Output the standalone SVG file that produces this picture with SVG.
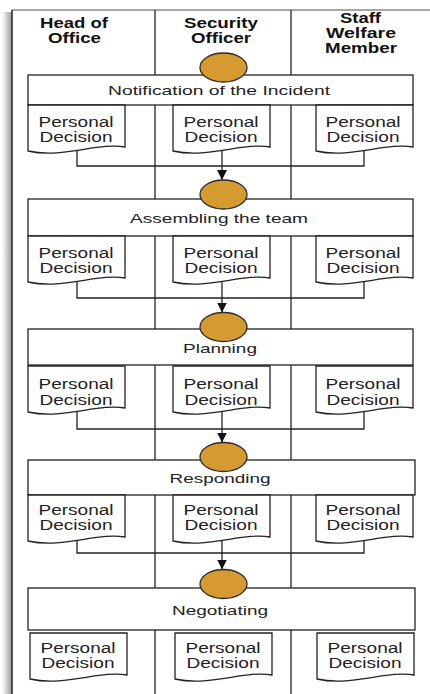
<svg xmlns="http://www.w3.org/2000/svg" width="430" height="694" viewBox="0 0 430 694">
<defs>
<linearGradient id="shadow" x1="0" y1="0" x2="1" y2="0">
<stop offset="0" stop-color="#ffffff"/>
<stop offset="1" stop-color="#9a9a9a"/>
</linearGradient>
<marker id="arr" viewBox="0 0 10 10" refX="10" refY="5" markerWidth="10" markerHeight="10" markerUnits="userSpaceOnUse" orient="auto">
<path d="M0,0 L10,5 L0,10 z" fill="#111"/>
</marker>
<path id="doc" d="M0,0 H97 V42 C70,37 35,54 0,46 Z"/>
</defs>
<style>
.lane{stroke:#222;stroke-width:1.3;fill:none}
.box{fill:#fff;stroke:#222;stroke-width:1.3}
.doc{fill:#fff;stroke:#222;stroke-width:1.3}
.oval{fill:#D59A30;stroke:#2a2a2a;stroke-width:1.3}
.con{stroke:#222;stroke-width:1.3;fill:none}
.hd{font-family:"Liberation Sans",Arial,sans-serif;font-weight:bold;font-size:14px;fill:#111;text-anchor:middle}
.st{font-family:"Liberation Sans",Arial,sans-serif;font-size:13.5px;fill:#222;text-anchor:middle}
.pd{font-family:"Liberation Sans",Arial,sans-serif;font-size:14px;fill:#222;text-anchor:middle}
</style>
<rect x="0" y="0" width="430" height="694" fill="#fff"/>
<rect x="2" y="12" width="10" height="682" fill="url(#shadow)"/>
<g id="frame">
<line x1="12" y1="10" x2="430" y2="10" stroke="#8a8a8a" stroke-width="1.5"/>
<line x1="12" y1="10" x2="12" y2="694" stroke="#222" stroke-width="1.5"/>
<line class="lane" x1="155" y1="10" x2="155" y2="694"/>
<line class="lane" x1="291" y1="10" x2="291" y2="694"/>
</g>
<g id="headers">
<text class="hd" x="74" y="28" textLength="68" lengthAdjust="spacingAndGlyphs">Head of</text>
<text class="hd" x="74.5" y="43" textLength="53" lengthAdjust="spacingAndGlyphs">Office</text>
<text class="hd" x="221" y="28" textLength="74" lengthAdjust="spacingAndGlyphs">Security</text>
<text class="hd" x="221" y="43" textLength="60" lengthAdjust="spacingAndGlyphs">Officer</text>
<text class="hd" x="360.5" y="23" textLength="41" lengthAdjust="spacingAndGlyphs">Staff</text>
<text class="hd" x="361" y="38" textLength="70" lengthAdjust="spacingAndGlyphs">Welfare</text>
<text class="hd" x="361" y="53" textLength="72" lengthAdjust="spacingAndGlyphs">Member</text>
</g>
<g id="connectors">
<path class="con" d="M77,150 V166 H364 V150"/>
<path class="con" d="M222,148 V180" marker-end="url(#arr)"/>
<path class="con" d="M77,282 V298 H364 V282"/>
<path class="con" d="M222,279 V312.5" marker-end="url(#arr)"/>
<path class="con" d="M77,412 V429 H364 V412"/>
<path class="con" d="M222,409 V442.5" marker-end="url(#arr)"/>
<path class="con" d="M77,540 V553 H364 V540"/>
<path class="con" d="M222,537 V569.5" marker-end="url(#arr)"/>
</g>
<g id="stage1">
<rect class="box" x="28" y="75" width="385" height="30"/>
<text class="st" x="219" y="95" textLength="222" lengthAdjust="spacingAndGlyphs">Notification of the Incident</text>
</g>
<g id="oval1"><ellipse class="oval" cx="223.5" cy="67.5" rx="23.5" ry="14.5"/></g>
<g id="stage2">
<rect class="box" x="28" y="199" width="385" height="37"/>
<text class="st" x="219" y="223" textLength="178" lengthAdjust="spacingAndGlyphs">Assembling the team</text>
</g>
<g id="oval2"><ellipse class="oval" cx="223.5" cy="194.5" rx="23.5" ry="14.5"/></g>
<g id="stage3">
<rect class="box" x="28" y="329" width="385" height="36"/>
<text class="st" x="220" y="353" textLength="74" lengthAdjust="spacingAndGlyphs">Planning</text>
</g>
<g id="oval3"><ellipse class="oval" cx="223.5" cy="327" rx="23.5" ry="14.5"/></g>
<g id="stage4">
<rect class="box" x="28" y="460" width="387" height="35"/>
<text class="st" x="220" y="483" textLength="101" lengthAdjust="spacingAndGlyphs">Responding</text>
</g>
<g id="oval4"><ellipse class="oval" cx="223.5" cy="457" rx="23.5" ry="14.5"/></g>
<g id="stage5">
<rect class="box" x="28" y="588" width="387" height="42"/>
<text class="st" x="220" y="615" textLength="96" lengthAdjust="spacingAndGlyphs">Negotiating</text>
</g>
<g id="oval5"><ellipse class="oval" cx="223.5" cy="584" rx="23.5" ry="14.5"/></g>

<g id="d1a"><use href="#doc" class="doc" x="28" y="105"/><text class="pd" x="76" y="127" textLength="75" lengthAdjust="spacingAndGlyphs">Personal</text><text class="pd" x="76" y="142" textLength="73" lengthAdjust="spacingAndGlyphs">Decision</text></g>
<g id="d1b"><use href="#doc" class="doc" x="173" y="105"/><text class="pd" x="221" y="127" textLength="75" lengthAdjust="spacingAndGlyphs">Personal</text><text class="pd" x="221" y="142" textLength="73" lengthAdjust="spacingAndGlyphs">Decision</text></g>
<g id="d1c"><use href="#doc" class="doc" x="316" y="105"/><text class="pd" x="363" y="127" textLength="75" lengthAdjust="spacingAndGlyphs">Personal</text><text class="pd" x="363" y="142" textLength="73" lengthAdjust="spacingAndGlyphs">Decision</text></g>

<g id="d2a"><use href="#doc" class="doc" x="28" y="236"/><text class="pd" x="76" y="258" textLength="75" lengthAdjust="spacingAndGlyphs">Personal</text><text class="pd" x="76" y="273" textLength="73" lengthAdjust="spacingAndGlyphs">Decision</text></g>
<g id="d2b"><use href="#doc" class="doc" x="173" y="236"/><text class="pd" x="221" y="258" textLength="75" lengthAdjust="spacingAndGlyphs">Personal</text><text class="pd" x="221" y="273" textLength="73" lengthAdjust="spacingAndGlyphs">Decision</text></g>
<g id="d2c"><use href="#doc" class="doc" x="316" y="236"/><text class="pd" x="363" y="258" textLength="75" lengthAdjust="spacingAndGlyphs">Personal</text><text class="pd" x="363" y="273" textLength="73" lengthAdjust="spacingAndGlyphs">Decision</text></g>

<g id="d3a"><use href="#doc" class="doc" x="28" y="366"/><text class="pd" x="76" y="389" textLength="75" lengthAdjust="spacingAndGlyphs">Personal</text><text class="pd" x="76" y="405" textLength="73" lengthAdjust="spacingAndGlyphs">Decision</text></g>
<g id="d3b"><use href="#doc" class="doc" x="173" y="366"/><text class="pd" x="221" y="389" textLength="75" lengthAdjust="spacingAndGlyphs">Personal</text><text class="pd" x="221" y="405" textLength="73" lengthAdjust="spacingAndGlyphs">Decision</text></g>
<g id="d3c"><use href="#doc" class="doc" x="316" y="366"/><text class="pd" x="363" y="389" textLength="75" lengthAdjust="spacingAndGlyphs">Personal</text><text class="pd" x="363" y="405" textLength="73" lengthAdjust="spacingAndGlyphs">Decision</text></g>

<g id="d4a"><use href="#doc" class="doc" x="28" y="495"/><text class="pd" x="76" y="515" textLength="75" lengthAdjust="spacingAndGlyphs">Personal</text><text class="pd" x="76" y="530" textLength="73" lengthAdjust="spacingAndGlyphs">Decision</text></g>
<g id="d4b"><use href="#doc" class="doc" x="173" y="495"/><text class="pd" x="221" y="515" textLength="75" lengthAdjust="spacingAndGlyphs">Personal</text><text class="pd" x="221" y="530" textLength="73" lengthAdjust="spacingAndGlyphs">Decision</text></g>
<g id="d4c"><use href="#doc" class="doc" x="316" y="495"/><text class="pd" x="363" y="515" textLength="75" lengthAdjust="spacingAndGlyphs">Personal</text><text class="pd" x="363" y="530" textLength="73" lengthAdjust="spacingAndGlyphs">Decision</text></g>

<g id="d5a"><use href="#doc" class="doc" x="30" y="633"/><text class="pd" x="78" y="653" textLength="75" lengthAdjust="spacingAndGlyphs">Personal</text><text class="pd" x="78" y="668" textLength="73" lengthAdjust="spacingAndGlyphs">Decision</text></g>
<g id="d5b"><use href="#doc" class="doc" x="175" y="633"/><text class="pd" x="223" y="653" textLength="75" lengthAdjust="spacingAndGlyphs">Personal</text><text class="pd" x="223" y="668" textLength="73" lengthAdjust="spacingAndGlyphs">Decision</text></g>
<g id="d5c"><use href="#doc" class="doc" x="317" y="633"/><text class="pd" x="365" y="653" textLength="75" lengthAdjust="spacingAndGlyphs">Personal</text><text class="pd" x="365" y="668" textLength="73" lengthAdjust="spacingAndGlyphs">Decision</text></g>
</svg>
